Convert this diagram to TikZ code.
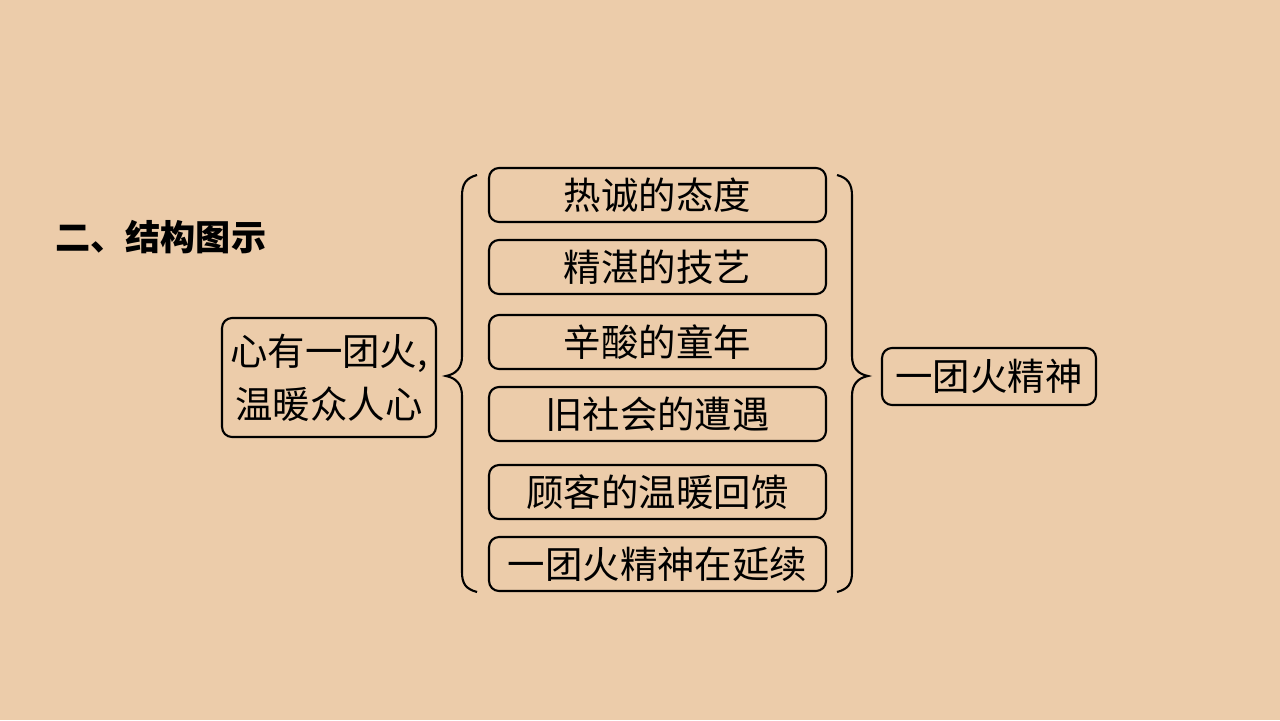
\documentclass[tikz,border=0pt]{standalone}
\usepackage{fontspec}
\setmainfont{Noto Sans CJK SC}
\definecolor{bg}{RGB}{236,204,170}
\begin{document}
\begin{tikzpicture}[x=0.02cm,y=-0.02cm,
  box/.style={draw=black,line width=1.2pt,rounded corners=0.2cm,inner sep=0pt,
    font=\fontsize{21.3}{30}\selectfont,align=center},
  item/.style={box,minimum width=6.74cm,minimum height=1.08cm},
  brace/.style={draw=black,line width=1.2pt}]
\fill[bg] (0,0) rectangle (1280,720);
\useasboundingbox (0,0) rectangle (1280,720);
\node[font=\bfseries\fontsize{20}{24}\selectfont,anchor=west,inner sep=0pt] (title) at (55,237) {二、结构图示};
\node[box,minimum width=4.28cm,minimum height=2.38cm] (left) at (329,377.5) {心有一团火,\\温暖众人心};
\node[item] (b1) at (657.5,195) {热诚的态度};
\node[item] (b2) at (657.5,267) {精湛的技艺};
\node[item] (b3) at (657.5,342) {辛酸的童年};
\node[item] (b4) at (657.5,414) {旧社会的遭遇};
\node[item] (b5) at (657.5,492) {顾客的温暖回馈};
\node[item] (b6) at (657.5,564) {一团火精神在延续};
\node[box,minimum width=4.28cm,minimum height=1.14cm] (right) at (989,376.5) {一团火精神};
\coordinate (lt) at (477,175);
\coordinate (lb) at (477,592);
\coordinate (ltip) at (446,376);
\coordinate (rt) at (837,175);
\coordinate (rb) at (837,592);
\coordinate (rtip) at (868,376);
\draw[brace] (lt) .. controls (466,178) and (462,184) .. (462,196) -- (462,356)
  .. controls (462,368) and (456,374) .. (ltip)
  .. controls (456,378) and (462,384) .. (462,396) -- (462,572)
  .. controls (462,584) and (466,589) .. (lb);
\draw[brace] (rt) .. controls (848,178) and (852,184) .. (852,196) -- (852,356)
  .. controls (852,368) and (858,374) .. (rtip)
  .. controls (858,378) and (852,384) .. (852,396) -- (852,572)
  .. controls (852,584) and (848,589) .. (rb);
\end{tikzpicture}
\end{document}
